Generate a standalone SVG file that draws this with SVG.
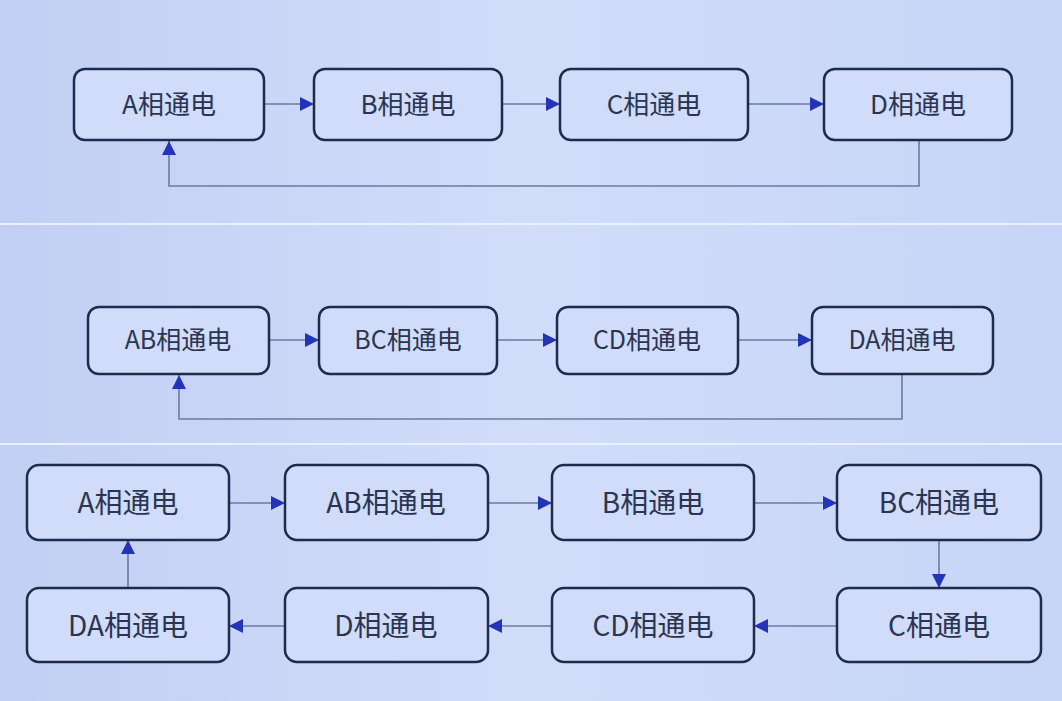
<svg xmlns="http://www.w3.org/2000/svg" width="1062" height="701" viewBox="0 0 1062 701">
<defs>
<linearGradient id="bg" x1="0" y1="0" x2="1" y2="0">
<stop offset="0" stop-color="#c1cff4"/>
<stop offset="0.5" stop-color="#d1ddf9"/>
<stop offset="1" stop-color="#c6d5f7"/>
</linearGradient>
<marker id="ah" markerUnits="userSpaceOnUse" markerWidth="14" markerHeight="14" refX="14" refY="7" orient="auto">
<path d="M0,0 L14,7 L0,14 z" fill="#2434b8"/>
</marker>
</defs>
<style>
.box{fill:#d0dcf9;stroke:#1f2b4d;stroke-width:2.5}
.t{font-family:"Noto Sans CJK SC","Noto Sans",sans-serif;fill:#2b3452;text-anchor:middle;dominant-baseline:central}
.p1{font-size:26px}.p2{font-size:25px}.p3{font-size:28px}
.c{fill:none;stroke:#6b7aa3;stroke-width:1.6;marker-end:url(#ah)}
</style>
<rect x="0" y="0" width="1062" height="701" fill="url(#bg)"/>
<rect x="0" y="223" width="1062" height="2" fill="#eaf0fd"/>
<rect x="0" y="443" width="1062" height="2" fill="#eaf0fd"/>

<g id="connectors">
<path class="c" d="M264,104 H314"/>
<path class="c" d="M502,104 H560"/>
<path class="c" d="M748,104 H824"/>
<path class="c" d="M919,140 V186 H169 V141"/>
<path class="c" d="M269,340 H319"/>
<path class="c" d="M497,340 H557"/>
<path class="c" d="M738,340 H812"/>
<path class="c" d="M902,374 V419 H179 V375"/>
<path class="c" d="M229,503 H285"/>
<path class="c" d="M488,503 H552"/>
<path class="c" d="M754,503 H837"/>
<path class="c" d="M939,540 V588"/>
<path class="c" d="M837,626 H754"/>
<path class="c" d="M552,626 H488"/>
<path class="c" d="M285,626 H229"/>
<path class="c" d="M128,588 V540"/>
</g>

<g id="p1-A"><rect class="box" x="74" y="69" width="190" height="71" rx="11"/><text class="t p1" x="169" y="102">A相通电</text></g>
<g id="p1-B"><rect class="box" x="314" y="69" width="188" height="71" rx="11"/><text class="t p1" x="408" y="102">B相通电</text></g>
<g id="p1-C"><rect class="box" x="560" y="69" width="188" height="71" rx="11"/><text class="t p1" x="654" y="102">C相通电</text></g>
<g id="p1-D"><rect class="box" x="824" y="69" width="188" height="71" rx="11"/><text class="t p1" x="918" y="102">D相通电</text></g>

<g id="p2-AB"><rect class="box" x="88" y="307" width="181" height="67" rx="11"/><text class="t p2" x="178" y="338">AB相通电</text></g>
<g id="p2-BC"><rect class="box" x="319" y="307" width="178" height="67" rx="11"/><text class="t p2" x="408" y="338">BC相通电</text></g>
<g id="p2-CD"><rect class="box" x="557" y="307" width="181" height="67" rx="11"/><text class="t p2" x="647" y="338">CD相通电</text></g>
<g id="p2-DA"><rect class="box" x="812" y="307" width="181" height="67" rx="11"/><text class="t p2" x="902" y="338">DA相通电</text></g>

<g id="p3-A"><rect class="box" x="27" y="465" width="202" height="75" rx="12"/><text class="t p3" x="128" y="501">A相通电</text></g>
<g id="p3-AB"><rect class="box" x="285" y="465" width="203" height="75" rx="12"/><text class="t p3" x="386" y="501">AB相通电</text></g>
<g id="p3-B"><rect class="box" x="552" y="465" width="202" height="75" rx="12"/><text class="t p3" x="653" y="501">B相通电</text></g>
<g id="p3-BC"><rect class="box" x="837" y="465" width="204" height="75" rx="12"/><text class="t p3" x="939" y="501">BC相通电</text></g>
<g id="p3-C"><rect class="box" x="837" y="588" width="204" height="74" rx="12"/><text class="t p3" x="939" y="624">C相通电</text></g>
<g id="p3-CD"><rect class="box" x="552" y="588" width="202" height="74" rx="12"/><text class="t p3" x="653" y="624">CD相通电</text></g>
<g id="p3-D"><rect class="box" x="285" y="588" width="203" height="74" rx="12"/><text class="t p3" x="386" y="624">D相通电</text></g>
<g id="p3-DA"><rect class="box" x="27" y="588" width="202" height="74" rx="12"/><text class="t p3" x="128" y="624">DA相通电</text></g>
</svg>
